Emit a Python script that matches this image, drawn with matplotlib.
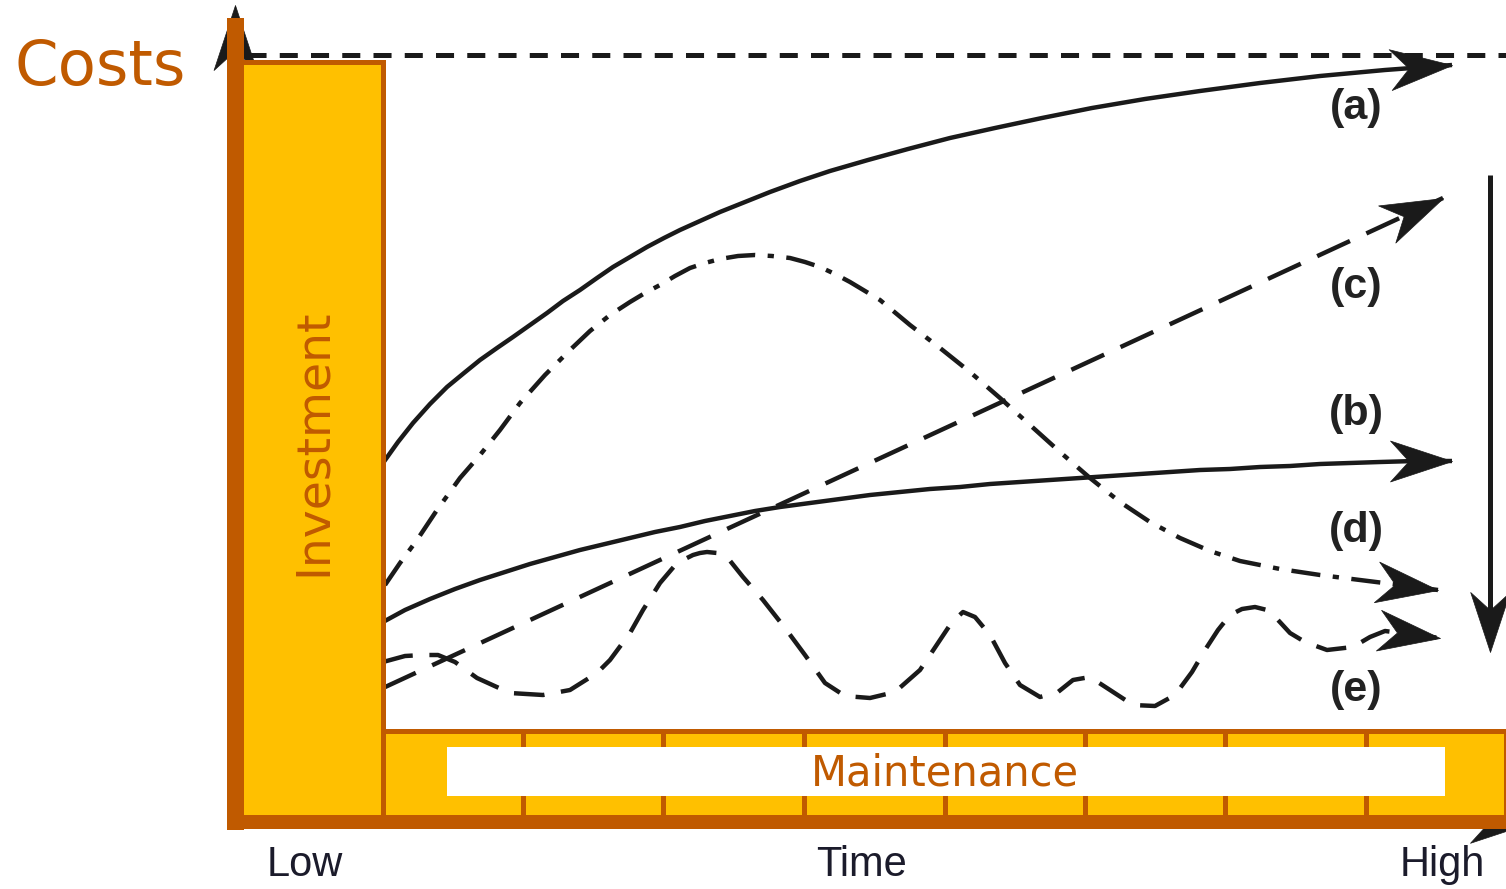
import numpy as np
import matplotlib
matplotlib.use("Agg")
import matplotlib.pyplot as plt
from matplotlib.path import Path
from matplotlib.markers import MarkerStyle
from matplotlib.transforms import Affine2D
from matplotlib.patches import Rectangle, FancyBboxPatch

plt.rcParams['lines.scale_dashes'] = False

# curves (x = time, y = cost, picture units, y grows downwards)
a_x = [383, 398, 413, 430, 447, 464, 480, 497, 513, 530, 547, 563, 580, 597, 613, 630,
       647, 664, 680, 700, 720, 745, 770, 800, 830, 868, 908, 950, 995, 1042, 1092,
       1145, 1200, 1260, 1320, 1385, 1452]
a_y = [463, 442, 423, 404, 387, 373, 360, 348, 337, 325, 313, 301, 290, 278, 267, 257,
       247, 238, 230, 221, 212, 202, 192, 181, 171, 160, 149, 138, 128, 118, 108,
       99, 91, 83, 76, 70, 65]

b_x = [383, 405, 430, 455, 480, 505, 530, 555, 580, 605, 630, 655, 680, 705, 730, 755,
       780, 810, 840, 870, 900, 930, 960, 990, 1020, 1050, 1080, 1110, 1140, 1170,
       1200, 1230, 1260, 1290, 1320, 1350, 1380, 1415, 1452]
b_y = [622, 610, 599, 589, 580, 572, 564, 557, 550, 544, 538, 532, 527, 521, 516, 511,
       507, 503, 499, 495, 492, 489, 487, 484, 482, 480, 478, 476, 474, 472,
       470, 469, 467, 466, 464, 463, 462, 461, 461]

c_x = [383, 1443]
c_y = [688, 198]

d_x = [385, 400, 417, 437, 460, 480, 500, 520, 545, 570, 590, 610, 630, 645, 660, 675,
       690, 705, 720, 738, 755, 772, 790, 805, 820, 835, 850, 865, 880, 910, 940, 970,
       1000, 1030, 1060, 1090, 1120, 1150, 1180, 1210, 1240, 1280, 1320, 1360, 1400,
       1438]
d_y = [585, 563, 540, 510, 478, 455, 430, 403, 375, 350, 331, 315, 302, 293, 285, 276,
       268, 263, 259, 256, 255, 256, 258, 262, 267, 274, 282, 291, 300, 325, 348, 372,
       398, 425, 452, 478, 502, 522, 538, 551, 561, 569, 575, 580, 585,
       590]

e_x = [383, 405, 423, 438, 455, 477, 510, 543, 570, 597, 610, 630, 643, 660, 677, 693,
       700, 707, 717, 727, 743, 763, 785, 805, 825, 845, 870, 895, 920, 940, 952, 963,
       975, 990, 1005, 1020, 1040, 1058, 1073, 1090, 1110, 1133, 1155, 1175, 1192,
       1205, 1218, 1230, 1242, 1255, 1267, 1278, 1290, 1305, 1327, 1353, 1370, 1385,
       1440]
e_y = [662, 656, 655, 655, 662, 678, 693, 695, 690, 673, 660, 633, 610, 583, 563, 555,
       553, 552, 553, 557, 577, 600, 628, 655, 683, 696, 698, 692, 670, 640, 622, 612,
       617, 635, 663, 685, 697, 692, 680, 677, 690, 705, 706, 695, 672,
       650, 630, 615, 609, 607, 610, 620, 633, 642, 650, 647, 637, 631,
       638]

curve_labels = ['(a)', '(c)', '(b)', '(d)', '(e)']
label_y = [108, 287, 414, 531, 690]

investment_x = [240, 383]
maintenance_edges = [383, 523, 663, 804, 945, 1085, 1225, 1366, 1506]

BROWN = '#C05A00'
YELLOW = '#FFC000'
INK = '#1a1a1a'

stealth = Path([(0, 0), (-1, 0.33), (-0.7, 0), (-1, -0.33), (0, 0)],
               [Path.MOVETO, Path.LINETO, Path.LINETO, Path.LINETO, Path.CLOSEPOLY])


def head(ax, x0, y0, x1, y1, length_px=62, z=6):
    ang = np.degrees(np.arctan2(-(y1 - y0), x1 - x0))
    m = MarkerStyle(stealth, transform=Affine2D().rotate_deg(ang))
    ax.plot([x1], [y1], marker=m, markersize=2 * length_px * 0.72, color=INK,
            ls='none', markeredgewidth=0.5, zorder=z)


fig = plt.figure(figsize=(15.06, 8.89), dpi=100)
ax = fig.add_axes([0, 0, 1, 1])
ax.set_xlim(0, 1506)
ax.set_ylim(889, 0)
ax.axis('off')

# axis arrows (mostly hidden behind the brown axes)
head(ax, 235, 100, 235, 5, 65, z=1)
head(ax, 1400, 823, 1530, 823, 60, z=1)

# top dashed reference line
ax.plot([248, 1506], [55, 55], color=INK, lw=3.6, dashes=(13, 9.5), zorder=3)

# curves
ax.plot(a_x, a_y, color=INK, lw=3.2, solid_capstyle='butt', zorder=4)
head(ax, a_x[-2], a_y[-2], a_x[-1], a_y[-1])
ax.plot(b_x, b_y, color=INK, lw=3.2, solid_capstyle='butt', zorder=4)
head(ax, b_x[-2], b_y[-2], b_x[-1], b_y[-1])
ax.plot(c_x, c_y, color=INK, lw=3.2, dashes=(26, 13), zorder=4)
head(ax, c_x[-2], c_y[-2], c_x[-1], c_y[-1])
ax.plot(d_x, d_y, color=INK, lw=3.2, dashes=(21, 9, 4.5, 9), zorder=4)
head(ax, d_x[-2], d_y[-2], d_x[-1], d_y[-1])
ax.plot(e_x, e_y, color=INK, lw=3.2, dashes=(22, 12), zorder=4)
head(ax, e_x[-2], e_y[-2], e_x[-1], e_y[-1])

# downward arrow on the right
ax.plot([1490, 1490], [175, 620], color=INK, lw=3.6, solid_capstyle='butt', zorder=4)
head(ax, 1490, 600, 1490, 652, 60)

for lab, ly in zip(curve_labels, label_y):
    ax.text(1356, ly, lab, fontsize=31, fontweight='bold', family='Liberation Sans',
            color='#222222', ha='center', va='center', zorder=5)

# investment bar
ax.add_patch(Rectangle((investment_x[0], 62), investment_x[1] - investment_x[0], 756,
                       facecolor=YELLOW, edgecolor=BROWN, lw=3.6, zorder=7))
ax.text(313, 442, 'Investment', rotation=90, fontsize=34, color=BROWN,
        ha='center', va='center', family='DejaVu Sans', zorder=9)

# maintenance cells
for x0, x1 in zip(maintenance_edges[:-1], maintenance_edges[1:]):
    ax.add_patch(Rectangle((x0, 731), x1 - x0, 87, facecolor=YELLOW,
                           edgecolor=BROWN, lw=3.6, zorder=7))
ax.add_patch(Rectangle((447, 747), 998, 49, facecolor='white', edgecolor='none', zorder=8))
ax.text(945, 774, 'Maintenance', fontsize=30, color=BROWN, ha='center', va='center',
        family='DejaVu Sans', zorder=9)

# thick brown axes
ax.add_patch(Rectangle((227, 18), 17, 812, facecolor=BROWN, edgecolor='none', zorder=8))
ax.add_patch(FancyBboxPatch((230, 815), 1290, 14, boxstyle='round,pad=0,rounding_size=3',
                            facecolor=BROWN, edgecolor='none', zorder=8))

ax.text(100, 68, 'Costs', fontsize=45, color=BROWN, ha='center', va='center',
        family='DejaVu Sans', zorder=9)
for lab, lx in zip(['Low', 'Time', 'High'], [305, 862, 1442]):
    ax.text(lx, 865, lab, fontsize=30, color='#1b1b2b', ha='center', va='center',
            family='Liberation Sans', zorder=9)

fig.savefig('out.png', dpi=100)
